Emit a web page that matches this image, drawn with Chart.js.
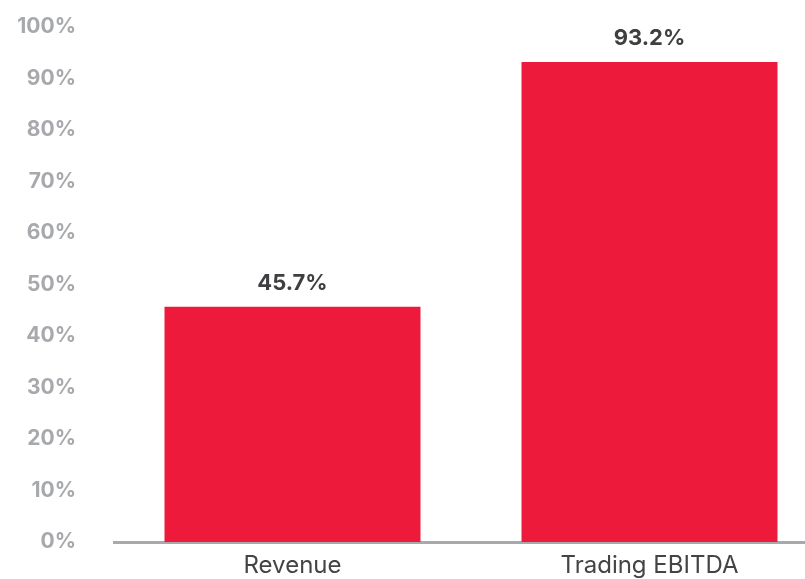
<!DOCTYPE html>
<html>
<head>
<meta charset="utf-8">
<script src="https://cdn.jsdelivr.net/npm/chart.js@4"></script>
<style>
  html, body { margin: 0; padding: 0; background: #fff; overflow: hidden; }
  #wrap { width: 828px; height: 579px; }
</style>
</head>
<body>
<div id="wrap"><canvas id="chart" width="828" height="579"></canvas></div>
<script>
const categorias = ['Revenue', 'Trading EBITDA'];
const valores = [45.7, 93.2];
const rotulos = ['45.7%', '93.2%'];

const vermelho = '#ED1A3B';
const cinza = '#A7A9AC';

// escreve o valor em cima de cada barra
const rotuloBarras = {
  id: 'rotuloBarras',
  afterDatasetsDraw(chart) {
    const ctx = chart.ctx;
    const meta = chart.getDatasetMeta(0);
    ctx.save();
    ctx.font = 'bold 22px Inter';
    ctx.fillStyle = '#3F3F41';
    ctx.textAlign = 'center';
    ctx.textBaseline = 'alphabetic';
    meta.data.forEach((bar, i) => {
      ctx.fillText(rotulos[i], bar.x, bar.y - 17);
    });
    ctx.restore();
  }
};

new Chart(document.getElementById('chart'), {
  type: 'bar',
  data: {
    labels: categorias,
    datasets: [{
      data: valores,
      backgroundColor: vermelho,
      borderWidth: 0,
      categoryPercentage: 1,
      barPercentage: 0.717
    }]
  },
  options: {
    responsive: false,
    animation: false,
    layout: { padding: { top: 27, right: 0, left: 0, bottom: 0 } },
    plugins: { legend: { display: false }, tooltip: { enabled: false } },
    scales: {
      x: {
        grid: { display: false, drawTicks: false },
        border: { display: true, color: cinza, width: 3 },
        ticks: { color: '#444', font: { family: 'Inter', size: 24 }, padding: 9 },
        afterFit: (s) => { s.height = 37; }
      },
      y: {
        min: 0,
        max: 100,
        grid: { display: false, drawTicks: false },
        border: { display: false },
        ticks: {
          stepSize: 10,
          color: cinza,
          padding: 38,
          font: { family: 'Inter', size: 21, weight: 'bold' },
          callback: (v) => v + '%'
        },
        afterFit: (s) => {
          s.width = 114;
          // o padding dos ticks não deve encolher a área do gráfico
          s.paddingTop = 0;
          s.paddingBottom = 0;
        }
      }
    }
  },
  plugins: [rotuloBarras]
});
</script>
</body>
</html>
